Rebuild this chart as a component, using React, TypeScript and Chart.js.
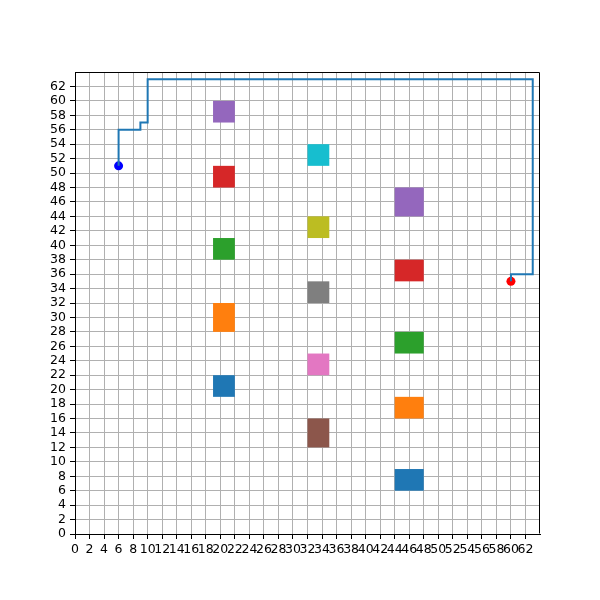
import { useEffect, useRef } from 'react';
import { Chart, registerables } from 'chart.js';

Chart.register(...registerables);

// Path (steps from the blue start to the red goal)
const pathX = [6, 6, 9, 9, 10, 10, 63, 63, 60, 60];
const pathY = [51, 56, 56, 57, 57, 63, 63, 36, 36, 35];

// Start / goal markers
const startPoint = { x: 6, y: 51 };
const goalPoint = { x: 60, y: 35 };

// Obstacles: lower-left corner, width, height
const rectX = [19, 19, 19, 19, 19, 32, 32, 32, 32, 32, 44, 44, 44, 44, 44];
const rectY = [19, 28, 38, 48, 57, 12, 22, 32, 41, 51, 6, 16, 25, 35, 44];
const rectW = [3, 3, 3, 3, 3, 3, 3, 3, 3, 3, 4, 4, 4, 4, 4];
const rectH = [3, 4, 3, 3, 3, 4, 3, 3, 3, 3, 3, 3, 3, 3, 4];

// Tick values
const xTickValues = [0, 2, 4, 6, 8, 10, 12, 14, 16, 18, 20, 22, 24, 26, 28, 30, 32, 34, 36, 38, 40, 42, 44, 46, 48, 50, 52, 54, 56, 58, 60, 62];
const yTickValues = [0, 2, 4, 6, 8, 10, 12, 14, 16, 18, 20, 22, 24, 26, 28, 30, 32, 34, 36, 38, 40, 42, 44, 46, 48, 50, 52, 54, 56, 58, 60, 62];

const palette = ['#1f77b4', '#ff7f0e', '#2ca02c', '#d62728', '#9467bd', '#8c564b', '#e377c2', '#7f7f7f', '#bcbd22', '#17becf'];

const rectPlugin = {
  id: 'rects',
  beforeDatasetsDraw(chart: any) {
    const { ctx, scales } = chart;
    const xs = scales.x;
    const ys = scales.y;
    ctx.save();
    for (let i = 0; i < rectX.length; i++) {
      const x0 = xs.getPixelForValue(rectX[i]);
      const x1 = xs.getPixelForValue(rectX[i] + rectW[i]);
      const y0 = ys.getPixelForValue(rectY[i]);
      const y1 = ys.getPixelForValue(rectY[i] + rectH[i]);
      ctx.fillStyle = palette[i % palette.length];
      ctx.fillRect(x0, y1, x1 - x0, y0 - y1);
    }
    ctx.restore();
  },
};

const framePlugin = {
  id: 'frame',
  afterDraw(chart: any) {
    const { ctx, chartArea } = chart;
    const l = Math.round(chartArea.left) + 0.5;
    const r = Math.round(chartArea.right) - 0.5;
    const t = Math.round(chartArea.top) + 0.5;
    const b = Math.round(chartArea.bottom) - 0.5;
    ctx.save();
    ctx.strokeStyle = '#000';
    ctx.lineWidth = 1;
    ctx.beginPath();
    ctx.moveTo(l, t);
    ctx.lineTo(r, t);
    ctx.lineTo(r, b);
    ctx.stroke();
    ctx.restore();
  },
};

export default function App() {
  const ref = useRef<HTMLCanvasElement>(null);
  useEffect(() => {
    document.body.style.margin = '0';
    const canvas = ref.current!;
    const tickFont = { family: 'DejaVu Sans', size: 12.5 };
    const chart = new Chart(canvas, {
      type: 'scatter',
      data: {
        datasets: [
          {
            data: pathX.map((x, i) => ({ x, y: pathY[i] })),
            showLine: true,
            borderColor: '#1f77b4',
            borderWidth: 2,
            pointRadius: 0,
            fill: false,
          },
          {
            data: [startPoint],
            pointRadius: 4.5,
            pointBackgroundColor: '#0000ff',
            pointBorderColor: '#0000ff',
            pointBorderWidth: 0,
          },
          {
            data: [goalPoint],
            pointRadius: 4.5,
            pointBackgroundColor: '#ff0000',
            pointBorderColor: '#ff0000',
            pointBorderWidth: 0,
          },
        ],
      },
      options: {
        animation: false,
        responsive: false,
        events: [],
        layout: { padding: { left: 0, top: 72, right: 60, bottom: 0 } },
        plugins: { legend: { display: false }, tooltip: { enabled: false } },
        scales: {
          x: {
            type: 'linear',
            min: 0,
            max: 64,
            afterBuildTicks: (s: any) => { s.ticks = xTickValues.map((v) => ({ value: v })); },
            afterFit: (s: any) => { s.height = 66; },
            ticks: { autoSkip: false, maxRotation: 0, minRotation: 0, color: '#000', font: tickFont, padding: 3 },
            grid: { color: '#b0b0b0', lineWidth: 1, tickLength: 5, tickColor: '#000' },
            border: { display: true, color: '#000', width: 1 },
          },
          y: {
            type: 'linear',
            min: 0,
            max: 64,
            afterBuildTicks: (s: any) => { s.ticks = yTickValues.map((v) => ({ value: v })); },
            afterFit: (s: any) => { s.width = 75; },
            ticks: { autoSkip: false, color: '#000', font: tickFont, padding: 4 },
            grid: { color: '#b0b0b0', lineWidth: 1, tickLength: 5, tickColor: '#000' },
            border: { display: true, color: '#000', width: 1 },
          },
        },
      },
      plugins: [rectPlugin, framePlugin],
    });
    return () => chart.destroy();
  }, []);
  return <canvas ref={ref} width={600} height={600} style={{ display: 'block', width: 600, height: 600 }} />;
}
